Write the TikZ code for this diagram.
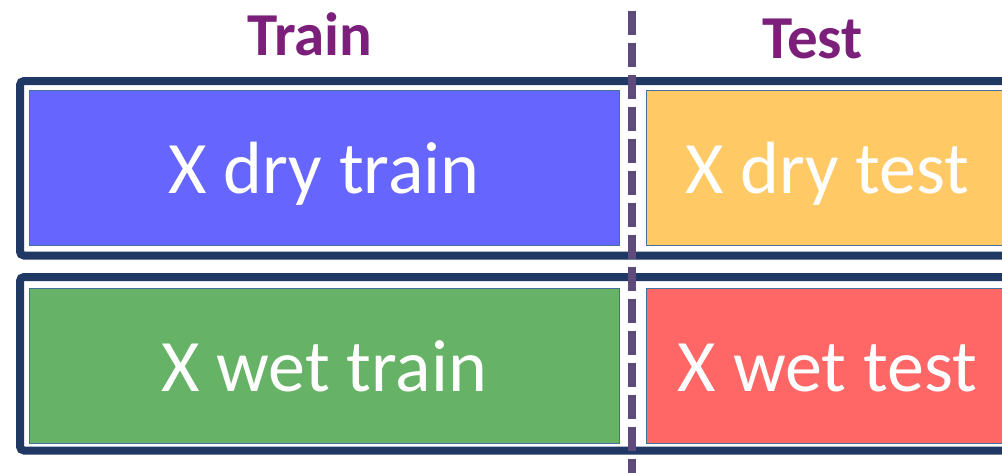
\documentclass[tikz,border=0pt]{standalone}
\usepackage{fontspec}
\setmainfont{Carlito}
\definecolor{framenavy}{HTML}{1F3864}
\definecolor{boxedge}{HTML}{41719C}
\definecolor{dryblue}{HTML}{6666FF}
\definecolor{dryorange}{HTML}{FFC966}
\definecolor{wetgreen}{HTML}{66B266}
\definecolor{wetred}{HTML}{FF6666}
\definecolor{titlepurple}{HTML}{7B1F7B}
\definecolor{splitpurple}{HTML}{5F4B7B}
\tikzset{
  x=1pt, y=1pt,
  frame/.style={draw=framenavy, line width=8pt, rounded corners=4pt},
  databox/.style={draw=boxedge, line width=1pt, inner sep=0pt, outer sep=0pt,
    text=white, font=\fontsize{74}{80}\selectfont,
    text height=51pt, text depth=0pt, anchor=north west},
  title/.style={text=titlepurple, font=\bfseries\fontsize{61}{66}\selectfont, anchor=base, inner sep=0pt},
  splitline/.style={draw=splitpurple, line width=8pt, dash pattern=on 24pt off 8pt}
}
\begin{document}
\begin{tikzpicture}
\useasboundingbox (0,0) rectangle (1002,-472);
\clip (0,0) rectangle (1002,-472);
% frames
\draw[frame] (20,-81) rectangle (1120,-255.5);
\draw[frame] (20,-277) rectangle (1120,-450.5);
% data boxes
\node[databox, fill=dryblue, minimum width=590pt, minimum height=155pt] (drytrain) at (29,-90) {X dry train};
\node[databox, fill=dryorange, minimum width=363pt, minimum height=155pt] (drytest) at (646,-90) {X dry test};
\node[databox, fill=wetgreen, minimum width=590pt, minimum height=155pt] (wettrain) at (29,-288) {X wet train};
\node[databox, fill=wetred, minimum width=363pt, minimum height=155pt] (wettest) at (646,-288) {X wet test};
% titles
\node[title] (train) at (310,-55) {Train};
\node[title] (test) at (812.5,-58) {Test};
% split line
\coordinate (splittop) at (632,-11);
\coordinate (splitbot) at (632,-490);
\draw[splitline] (splittop) -- (splitbot);
\end{tikzpicture}
\end{document}
